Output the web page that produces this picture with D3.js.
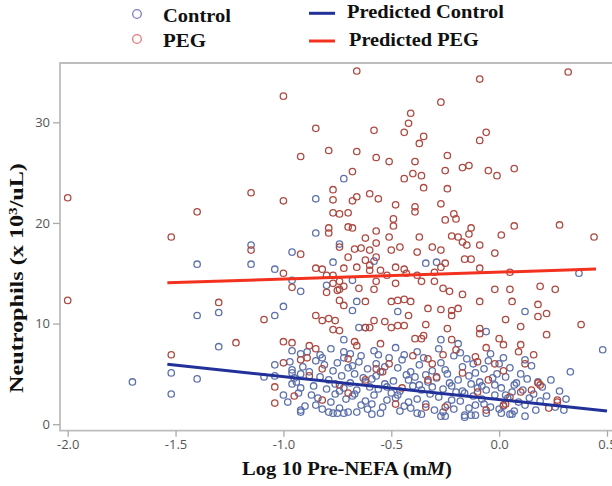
<!DOCTYPE html>
<html>
<head>
<meta charset="UTF-8">
<script src="https://d3js.org/d3.v7.min.js"></script>
<style>
    body { margin: 0; background: #fff; }
    .tick text { font-family: "Open Sans", sans-serif; font-size: 13px; fill: #555; }
    .tick line { stroke: #aaa; stroke-width: 1.3px; }
    .frame { stroke: #bdbdbd; stroke-width: 1.8px; fill: none; }
    .lab { font-family: "Liberation Serif", "Times New Roman", serif; font-weight: bold; fill: #111; }
</style>
</head>
<body>
<svg width="612" height="486"></svg>
<script>

const xTicks = [-2.0, -1.5, -1.0, -0.5, 0.0, 0.5];
const yTicks = [0, 10, 20, 30];

// [log10 pre-NEFA, neutrophils]
const controlPts = [
    [-0.72,24.4],[-0.85,22.4],[-0.85,19.0],[-1.15,17.8],[-0.96,17.1],[-1.4,15.9],[-1.15,15.9],[-1.04,15.4],
    [-0.96,14.3],[-0.92,13.2],[-1.3,11.1],[-1.4,10.8],[-1.0,11.7],[-1.04,10.8],[-1.3,7.7],[-0.96,7.3],
    [-1.04,5.9],[-1.52,5.1],[-1.4,4.5],[-1.7,4.2],[-1.09,4.7],[-1.04,4.8],[-0.96,5.4],[-0.96,5.1],
    [-0.96,4.0],[-0.92,5.0],[-0.92,3.6],[-1.52,3.0],[-1.0,2.9],[-0.92,1.4],[-0.77,16.1],[-0.8,13.8],
    [-0.68,14.3],[-0.66,12.2],[-0.68,11.3],[-0.65,9.6],[-0.62,9.6],[-0.72,8.4],[-0.82,6.6],[-0.74,17.9],
    [-0.58,16.2],[-0.34,16.0],[-0.29,16.1],[0.37,15.0],[-0.47,11.2],[0.12,11.2],[-0.06,9.2],[0.48,7.4],
    [-0.72,7.2],
    [-0.97,6.2],[-0.95,4.6],[-0.93,3.1],[-0.91,5.7],[-0.98,2.2],[-0.92,7.0],[-0.9,1.8],[-0.94,4.2],
    [-0.88,5.2],[-0.86,3.8],[-0.85,6.3],[-0.84,2.6],[-0.83,4.7],[-0.82,1.5],[-0.81,5.9],[-0.87,2.9],
    [-0.8,3.5],[-0.89,7.2],[-0.83,6.9],
    [-0.79,4.4],[-0.78,2.2],[-0.77,5.3],[-0.76,3.0],[-0.75,6.1],[-0.74,1.6],[-0.73,4.8],[-0.72,3.6],
    [-0.71,2.5],[-0.7,5.6],[-0.78,7.5],[-0.75,1.1],[-0.72,6.6],[-0.76,4.0],[-0.74,3.3],
    [-0.69,4.1],[-0.68,2.8],[-0.67,5.0],[-0.66,3.4],[-0.65,6.2],[-0.64,1.9],[-0.63,4.6],[-0.62,2.3],
    [-0.61,5.5],[-0.6,3.7],[-0.69,7.0],[-0.66,1.2],[-0.64,6.8],[-0.62,4.2],[-0.67,3.0],[-0.61,1.5],[-0.68,5.8],
    [-0.59,4.5],[-0.58,2.9],[-0.57,6.0],[-0.56,3.5],[-0.55,5.2],[-0.54,1.7],[-0.53,4.0],[-0.52,2.4],
    [-0.51,6.6],[-0.5,3.1],[-0.58,7.3],[-0.55,1.1],[-0.53,5.7],[-0.57,4.8],[-0.52,3.7],[-0.59,2.0],[-0.56,6.9],
    [-0.49,4.3],[-0.48,2.6],[-0.47,5.6],[-0.46,3.3],[-0.45,6.4],[-0.44,1.8],[-0.43,4.9],[-0.42,2.2],
    [-0.41,5.2],[-0.4,3.8],[-0.48,7.6],[-0.46,1.3],[-0.44,6.9],[-0.42,4.4],[-0.47,2.9],[-0.41,1.6],
    [-0.39,4.7],[-0.38,2.5],[-0.37,5.9],[-0.36,3.4],[-0.35,6.6],[-0.34,2.0],[-0.33,4.2],[-0.32,3.0],
    [-0.31,5.3],[-0.3,1.4],[-0.38,7.2],[-0.36,1.0],[-0.34,4.9],[-0.31,3.7],[-0.37,3.9],
    [-0.29,4.6],[-0.28,2.7],[-0.27,6.1],[-0.26,3.5],[-0.25,5.4],[-0.24,1.9],[-0.23,4.1],[-0.22,2.4],
    [-0.21,6.8],[-0.2,3.2],[-0.28,7.5],[-0.26,1.2],[-0.24,5.0],[-0.22,3.8],[-0.27,8.4],[-0.21,1.5],
    [-0.19,4.4],[-0.18,2.3],[-0.17,5.7],[-0.16,3.1],[-0.15,6.5],[-0.14,1.6],[-0.13,4.0],[-0.12,2.8],
    [-0.11,5.1],[-0.1,3.6],[-0.18,7.1],[-0.16,0.9],[-0.14,4.8],[-0.12,6.0],[-0.17,3.3],[-0.11,1.9],[-0.19,8.0],
    [-0.09,4.2],[-0.08,2.5],[-0.07,5.5],[-0.06,3.4],[-0.05,6.3],[-0.04,1.7],[-0.03,4.6],[-0.02,2.9],
    [-0.01,5.0],[-0.08,3.8],[-0.06,1.1],[-0.04,7.0],[-0.02,3.9],[-0.07,2.0],[0.0,6.0],
    [0.01,3.6],[0.02,1.8],[0.03,4.7],[0.04,2.6],[0.05,5.6],[0.06,3.2],[0.07,1.3],[0.08,4.1],
    [0.09,2.2],[0.1,5.0],[0.02,6.6],[0.05,1.0],[0.07,3.9],[0.03,2.9],
    [0.11,3.4],[0.12,1.9],[0.13,4.5],[0.14,2.6],[0.15,5.8],[0.16,3.0],[0.17,1.4],[0.18,4.2],
    [0.19,2.3],[0.2,3.7],[0.12,6.4],
    [0.22,2.8],[0.24,4.4],[0.26,1.7],[0.28,3.3],[0.31,2.5],[0.33,5.2],[0.3,1.4],
    [-0.92,1.2],[-0.85,1.9],[-0.79,1.2],[-0.77,1.1],[-0.72,1.1],[-0.7,1.2],[-0.59,1.0],[-0.38,1.1],
    [-0.27,0.8],[-0.25,0.8],[-0.16,0.7],[-0.13,0.9],[-0.11,0.9],[0.0,1.5],[0.01,1.1],[0.06,1.0],[0.12,0.8]
];

const pegPts = [
    [-0.66,35.1],[-1.0,32.6],[-0.85,29.4],[-0.58,29.2],[-0.92,26.6],[-0.79,27.2],[-0.66,27.1],[-0.57,26.5],
    [-0.68,25.1],[-1.15,23.0],[-1.0,22.2],[-0.77,23.3],[-0.77,22.3],[-0.68,22.2],[-0.66,22.6],[-0.6,22.9],
    [-0.56,22.4],[-1.4,21.1],[-0.77,21.0],[-0.74,20.9],[-0.7,21.0],[-1.52,18.6],[-0.79,19.5],[-0.79,19.0],
    [-0.7,19.6],[-0.68,19.5],[-0.62,18.5],[-0.57,19.2],[-0.09,34.3],[0.32,35.0],[-0.27,32.0],[-0.41,30.9],
    [-0.42,29.9],[-0.44,29.0],[-0.35,28.6],[-0.37,27.9],[-0.06,29.0],[-0.09,28.2],[-0.51,26.1],[-0.39,26.1],
    [-0.24,26.7],[-0.44,24.4],[-0.4,24.9],[-0.36,24.7],[-0.25,25.2],[-0.17,25.5],[-0.14,25.7],[-0.05,25.2],
    [-0.01,24.7],[0.07,25.4],[-0.48,21.8],[-0.39,21.6],[-0.39,21.1],[-0.35,23.5],[-0.24,23.4],[-0.27,21.9],
    [-0.49,20.4],[-0.49,19.7],[-0.25,20.3],[-0.21,20.9],[-0.2,20.4],[-0.51,18.6],[-0.37,18.6],[-0.22,18.7],
    [-0.19,18.6],[-0.13,19.5],[-0.14,18.9],[0.01,18.8],[0.07,19.7],[0.28,19.8],[0.44,18.6],[-2.0,22.5],
    [-2.0,12.3],[-1.15,17.3],[-0.92,16.9],[-1.0,15.0],[-0.96,13.6],[-1.3,12.1],[-1.09,10.4],[-1.22,8.1],
    [-1.0,8.2],[-0.96,8.1],[-1.52,6.9],[-1.0,6.1],[-0.92,6.4],[-1.04,3.7],[-1.04,2.1],
    [-0.85,15.5],[-0.82,15.4],[-0.8,14.8],[-0.77,14.8],[-0.8,13.1],[-0.77,14.0],[-0.74,14.2],[-0.74,13.4],
    [-0.74,12.3],[-0.72,11.8],[-0.85,10.8],[-0.82,10.3],[-0.79,10.5],[-0.76,10.3],[-0.77,9.4],[-0.74,9.3],
    [-0.89,6.6],
    [-0.74,17.6],[-0.7,16.6],[-0.67,17.4],[-0.64,17.5],[-0.6,17.3],[-0.57,18.0],[-0.62,16.3],[-0.57,16.6],
    [-0.5,17.3],[-0.46,17.6],[-0.38,17.1],[-0.31,17.6],[-0.27,17.3],[-0.17,18.1],[-0.15,17.8],[-0.16,16.4],
    [-0.13,16.4],[-0.09,17.8],[-0.02,17.0],
    [-0.72,15.5],[-0.66,15.6],[-0.6,15.8],[-0.6,15.3],[-0.55,15.3],[-0.52,14.8],[-0.48,15.6],[-0.44,15.4],
    [-0.43,15.0],[-0.38,14.8],[-0.3,15.1],[-0.27,15.6],[-0.25,16.0],[-0.09,15.5],[0.05,15.1],
    [-0.75,13.3],[-0.72,13.7],[-0.65,13.5],[-0.58,13.4],[-0.57,14.2],[-0.48,14.0],[-0.36,14.2],[-0.3,14.2],
    [-0.26,13.5],[-0.23,13.2],[-0.17,12.9],[-0.02,13.4],[0.05,13.4],[0.19,13.7],[0.26,13.4],
    [-0.62,12.2],[-0.5,12.2],[-0.47,12.3],[-0.44,12.4],[-0.41,12.2],[-0.33,11.5],[-0.27,11.4],[-0.22,11.3],
    [-0.19,11.5],[-0.09,12.2],[0.06,12.2],[0.18,11.9],[0.22,11.0],
    [-0.62,9.6],[-0.6,9.6],[-0.58,10.3],[-0.53,10.2],[-0.5,9.6],[-0.47,9.8],[-0.44,9.8],[-0.42,10.8],
    [-0.34,9.9],[-0.24,9.5],[-0.22,10.8],[-0.09,9.5],[0.03,10.4],[0.1,9.7],[0.18,10.7],[0.22,8.9],[0.38,9.9],
    [-0.88,7.8],[-0.85,7.5],[-0.67,8.2],[-0.66,7.8],[-0.55,8.0],[-0.39,8.5],[-0.36,8.5],[-0.35,8.8],
    [-0.22,8.4],[-0.09,9.0],[-0.06,7.6],[0.0,8.5],[0.02,7.9],[0.1,7.9],[0.09,7.2],[0.16,6.9],
    [-0.33,6.5],[-0.31,6.0],[-0.26,6.9],[-0.11,6.7],[-0.1,6.2],[-0.02,6.0],[0.12,6.0],[0.19,3.9],
    [0.15,3.4],[0.27,2.4],[0.02,1.9],
    [-0.82,5.5],[-0.7,3.1],[-0.74,3.9],[-0.57,5.5],[-0.54,5.2],[-0.51,6.0],[-0.33,4.4],[-0.29,4.7],
    [-0.1,3.2],[-0.17,5.1],[0.05,2.7],[0.1,3.2],[0.23,1.6],[0.18,4.1],[-0.82,2.4],[-0.34,1.7],
    [-0.48,2.0],[-0.25,1.7],[-0.06,1.4],[0.03,2.0],[0.27,2.2],[-0.45,3.6],[-0.62,4.4],[-0.05,4.4],
    [0.02,5.3],[-0.4,6.8],[-0.2,7.4],[-0.7,6.5],[-0.88,4.8],[-0.95,2.8]
];

// fitted lines, end points
const fitControl = [[-1.538, 5.95], [0.5, 1.31]];
const fitPeg = [[-1.538, 14.05], [0.449, 15.41]];

const svg = d3.select("svg");

const x = d3.scaleLinear().domain([-2, 0.5]).range([67.7, 607]);
const y = d3.scaleLinear().domain([0, 30]).range([424.2, 122.3]);

const plotLeft = 60, plotTop = 63, plotBottom = 430.7, plotRight = 640;

// stretch a text horizontally (in its own frame) to a wanted width
function stretchTo (text, width) {
    const w = text.node().getBBox().width;
    text.attr("transform", `scale(${width / w},1)`);
}

// frame
svg.append("path")
    .attr("class", "frame")
    .attr("d", `M${plotRight},${plotTop}H${plotLeft}V${plotBottom}H${plotRight}`);

// axes
svg.append("g")
    .attr("transform", `translate(${plotLeft},0)`)
    .call(d3.axisLeft(y).tickValues(yTicks).tickSize(7).tickPadding(3).tickFormat(d => d))
    .call(g => g.select(".domain").remove());

svg.append("g")
    .attr("transform", `translate(0,${plotBottom})`)
    .call(d3.axisBottom(x).tickValues(xTicks).tickSize(6).tickPadding(3).tickFormat(d => d.toFixed(1)))
    .call(g => g.select(".domain").remove());

// points
svg.append("g").selectAll("circle")
    .data(controlPts)
    .join("circle")
        .attr("cx", d => x(d[0]))
        .attr("cy", d => y(d[1]))
        .attr("r", 3.2)
        .attr("fill", "none")
        .attr("stroke", "#5e71ab")
        .attr("stroke-width", 1.3);

svg.append("g").selectAll("circle")
    .data(pegPts)
    .join("circle")
        .attr("cx", d => x(d[0]))
        .attr("cy", d => y(d[1]))
        .attr("r", 3.2)
        .attr("fill", "none")
        .attr("stroke", "#ad4a42")
        .attr("stroke-width", 1.3);

// fitted lines
const line = d3.line().x(d => x(d[0])).y(d => y(d[1]));
svg.append("path").attr("d", line(fitPeg))
    .attr("stroke", "#f2321f").attr("stroke-width", 3).attr("fill", "none");
svg.append("path").attr("d", line(fitControl))
    .attr("stroke", "#22309a").attr("stroke-width", 3).attr("fill", "none");

// legend
const legendItems = [
    {label: "Control", kind: "dot", color: "#7b7bc6", x: 137, y: 14, tx: 163, ty: 21.5, w: 68},
    {label: "PEG", kind: "dot", color: "#e27a7a", x: 137, y: 39, tx: 163, ty: 46.5, w: 43},
    {label: "Predicted Control", kind: "line", color: "#22309a", x: 322, y: 13.3, tx: 347, ty: 18, w: 157},
    {label: "Predicted PEG", kind: "line", color: "#f2321f", x: 322, y: 41, tx: 349, ty: 46, w: 130}
];

legendItems.forEach(d => {
    if (d.kind === "dot") {
        svg.append("circle").attr("cx", d.x).attr("cy", d.y).attr("r", 4.3)
            .attr("fill", "none").attr("stroke", d.color).attr("stroke-width", 1.3);
    } else {
        svg.append("line").attr("x1", d.x - 13).attr("x2", d.x + 13).attr("y1", d.y).attr("y2", d.y)
            .attr("stroke", d.color).attr("stroke-width", 3);
    }
    const g = svg.append("g").attr("transform", `translate(${d.tx},${d.ty})`);
    const t = g.append("text").attr("class", "lab").style("font-size", "18.5px").text(d.label);
    stretchTo(t, d.w);
});

// axis titles
const yTitleG = svg.append("g").attr("transform", "translate(23,278) rotate(-90)");
const yTitle = yTitleG.append("text").attr("class", "lab")
    .attr("text-anchor", "middle")
    .style("font-size", "19px");
yTitle.append("tspan").text("Neutrophils (x 10");
yTitle.append("tspan").attr("baseline-shift", "super").style("font-size", "12px").text("3");
yTitle.append("tspan").text("/uL)");
stretchTo(yTitle, 230);

const xTitleG = svg.append("g").attr("transform", "translate(347,475)");
const xTitle = xTitleG.append("text").attr("class", "lab")
    .attr("text-anchor", "middle")
    .style("font-size", "19.5px");
xTitle.append("tspan").text("Log 10 Pre-NEFA (m");
xTitle.append("tspan").style("font-style", "italic").text("M");
xTitle.append("tspan").text(")");
stretchTo(xTitle, 210);

</script>
</body>
</html>
